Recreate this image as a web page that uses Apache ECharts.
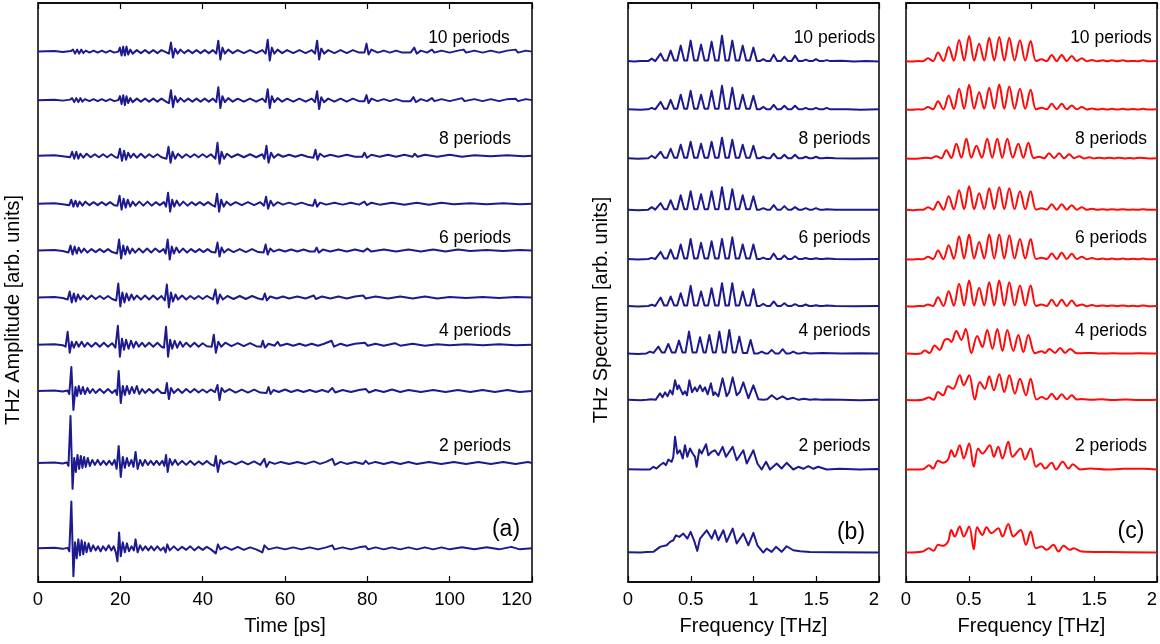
<!DOCTYPE html>
<html><head><meta charset="utf-8">
<script src="https://cdn.jsdelivr.net/npm/echarts@6/dist/echarts.min.js"></script>
<style>html,body{margin:0;padding:0;background:#fff}#c{width:1160px;height:644px}</style>
</head><body><div id="c"></div>
<script>
// ---------- tick labels ----------
const timeTicks = [0, 20, 40, 60, 80, 100, 120];
const freqTicks = [0, 0.5, 1, 1.5, 2];
const traceLabels = ['10 periods', '8 periods', '6 periods', '4 periods', '2 periods'];
const panelLabels = ['(a)', '(b)', '(c)'];

// vertical offsets of stacked traces (10 periods ... 1 period), arb. units
const baseTime = [531.3, 482.7, 427, 379, 332, 285, 237.7, 191.3, 119.3, 33.7];
const baseSpec = [521.3, 473, 424, 372.5, 323, 276, 228.5, 182, 112.7, 29.5];

// ---------- (a) time-domain traces [ps, amplitude] ----------
const tP10 = [[0,0],[4,0.5],[6,-0.5],[8,0.5],[8.5,2],[9.0,-2],[9.5,2],[10.0,-2],[10.5,2],[11.0,-1.5],[11.6,1],[12.5,-1],[13.5,1],[14.5,-1],[15.5,1],[16.5,-1],[17.5,1],[18.5,-1],[19.5,0],[19.9,4],[20.3,-4],[20.7,5],[21.1,-4],[21.5,5],[21.9,-3],[22.4,2],[23,-2],[24,1.5],[25,-1.5],[26,1.5],[27,-1.5],[28,1.5],[29,-1.5],[30,1.5],[31.3,-1],[31.8,-2],[32.3,9],[32.8,-6],[33.3,3],[33.9,-2],[34.6,2],[35.5,-1.5],[36.5,1.5],[37.5,-1.5],[38.5,1.5],[39.5,-1.5],[40.5,1.5],[41.5,-1.5],[42.5,1.5],[43.3,-2],[43.8,11],[44.3,-8],[44.8,4],[45.4,-2],[46.2,2],[47.3,-1.5],[48.5,1.5],[50,-1.5],[51.5,1.5],[53,-1.5],[54.5,1.5],[55.3,-2],[55.8,12],[56.3,-9],[56.8,4],[57.4,-2],[58.2,2],[59.3,-1.5],[60.5,1.5],[62,-1.5],[63.5,1.5],[65,-1.5],[66.5,1.5],[67.3,-2],[67.8,11],[68.3,-8],[68.8,3],[69.5,-2],[70.5,1.5],[72,-1.5],[73.5,1.5],[75,-1.5],[76.5,1.5],[78,-1],[79.3,-1],[79.8,8],[80.3,-3],[81,2],[82.5,-1],[84,1],[85.5,-1],[87,1],[88.5,-1],[90.5,-1],[91.4,4],[92,-2],[93,1],[94.5,-1],[95.7,2],[96.3,-1],[98,1],[100,-1],[102,1],[103.4,2],[104,-1],[106,1],[108,-1],[110,1],[112,-1],[114,1],[116,2],[116.6,-1],[118.5,1],[120,0]];
const tP9 = [[0,0],[4,0.5],[6,-0.5],[7.8,0.5],[8.3,2],[8.8,-2],[9.3,2],[9.8,-2],[10.3,2],[10.8,-1.5],[11.4,1],[12.5,-1],[13.5,1],[14.5,-1],[15.5,1],[16.5,-1],[17.5,1],[18.5,-1],[19.5,0],[19.9,4],[20.3,-4],[20.7,5],[21.1,-5],[21.5,4],[21.9,-3],[22.4,2],[23,-2],[24,1.5],[25,-1.5],[26,1.5],[27,-1.5],[28,1.5],[29,-1.5],[30,1.5],[31.3,-2],[31.8,-3],[32.3,10],[32.8,-7],[33.3,4],[33.9,-2],[34.6,2],[35.5,-1.5],[36.5,1.5],[37.5,-1.5],[38.5,1.5],[39.5,-1.5],[40.5,1.5],[41.5,-1.5],[42.5,1.5],[43.3,-2],[43.8,13],[44.3,-8],[44.8,4],[45.4,-2],[46.2,2],[47.3,-1.5],[48.5,1.5],[50,-1.5],[51.5,1.5],[53,-1.5],[54.5,1.5],[55.3,-2],[55.8,11],[56.3,-8],[56.8,4],[57.4,-2],[58.2,2],[59.3,-1.5],[60.5,1.5],[62,-1.5],[63.5,1.5],[65,-1.5],[66.5,1.5],[67.3,-2],[67.8,9],[68.3,-9],[68.8,3],[69.5,-2],[70.5,1.5],[72,-1.5],[73.5,1.5],[75,-1.5],[76.5,1.5],[78,-1],[79.3,-1],[79.8,5],[80.3,-3],[81,1.5],[82.5,-1],[84,1],[85.5,-1],[87,1],[88.5,-1],[90.5,-1],[91.2,3],[91.8,-2],[93,1],[94.5,-1],[95.7,2],[96.3,-1],[98,1],[100,-1],[102,1],[103,2],[103.6,-1],[106,1],[108,-1],[110,1],[112,-1],[114,1],[116,1.5],[116.6,-1],[118.5,1],[120,0]];
const tP8 = [[0,0],[4,0.5],[6,-0.5],[7.8,-1.5],[8.3,4],[8.8,-3],[9.3,4],[9.8,-3],[10.3,2],[11,-2],[11.8,2],[12.8,-1.5],[13.8,1.5],[14.8,-1.5],[15.8,1.5],[16.8,-1.5],[17.8,1.5],[18.8,-1.5],[19.4,-2],[19.9,7],[20.4,-5],[20.9,5],[21.4,-4],[21.9,3],[22.5,-2],[23.2,2],[24,-2],[25,2],[26,-2],[27,1.5],[28,-1.5],[29,1.5],[30,-1.5],[31.2,-3],[31.7,9],[32.2,-7],[32.7,4],[33.3,-3],[34,2],[35,-2],[36,1.5],[37,-1.5],[38,1.5],[39,-1.5],[40,1.5],[41,-1.5],[42,1.5],[43.1,-3],[43.6,13],[44.1,-8],[44.6,4],[45.2,-3],[45.9,2],[47,-1.5],[48.5,1.5],[50,-1.5],[51.5,1.5],[53,-1.5],[54.5,1.5],[55.0,-3],[55.5,10],[56.0,-7],[56.6,3],[57.3,-2],[58.3,1.5],[59.5,-1],[61,1],[62.5,-1],[64,1],[65.5,-1],[66.9,-2],[67.4,6],[67.9,-4],[68.5,2],[69.5,-1],[71,1],[73,-1],[75,1],[77,-1],[78.8,-1],[79.3,3],[79.9,-2],[81,1],[83,-1],[85,1],[87,-1],[89,1],[91,-1],[91.5,2],[92.2,-1],[94,1],[97,-1],[100,1],[103,-1],[106,0.5],[110,-0.5],[114,0.5],[118,-0.5],[120,0]];
const tP7 = [[0,0],[4,0.5],[6,-0.5],[7.6,-1.5],[8.1,4],[8.6,-3],[9.1,3],[9.6,-3],[10.1,2],[10.8,-2],[11.5,2],[12.5,-1.5],[13.5,1.5],[14.5,-1.5],[15.5,1.5],[16.5,-1.5],[17.5,1.5],[18.5,-1.5],[19.3,-2],[19.8,8],[20.3,-6],[20.8,5],[21.3,-4],[21.8,4],[22.4,-3],[23,2],[23.7,-2],[24.6,2],[25.6,-2],[26.6,2],[27.6,-2],[28.6,1.5],[29.6,-1.5],[30.6,1.5],[31.1,-3],[31.6,11],[32.1,-8],[32.6,4],[33.1,-3],[33.7,3],[34.4,-2],[35.3,2],[36.3,-2],[37.3,1.5],[38.3,-1.5],[39.3,1.5],[40.3,-1.5],[41.3,1.5],[42.3,-1.5],[43.0,-3],[43.5,10],[44.0,-8],[44.5,4],[45.1,-3],[45.8,2],[46.8,-1.5],[48,1.5],[49.5,-1.5],[51,1.5],[52.5,-1.5],[54,1.5],[54.9,-2],[55.4,7],[55.9,-5],[56.5,3],[57.2,-2],[58.2,1.5],[59.5,-1],[61,1],[62.5,-1],[64,1],[65.5,-1],[66.8,-2],[67.3,4],[67.8,-3],[68.5,1],[70,-1],[72,1],[74,-1],[76,1],[78,-1],[79.3,2],[79.9,-1.5],[81,1],[83,-1],[86,1],[89,-1],[92,1],[95,-1],[98,1],[101,-0.5],[105,0.5],[109,-0.5],[113,0.5],[117,-0.5],[120,0]];
const tP6 = [[0,0],[4,0.5],[6,-0.5],[7.4,-2],[7.9,5],[8.4,-4],[8.9,4],[9.4,-3],[9.9,3],[10.5,-2],[11.2,2],[12,-2],[13,1.5],[14,-1.5],[15,1.5],[16,-1.5],[17,1.5],[18,-1.5],[19.2,-3],[19.7,11],[20.2,-8],[20.7,5],[21.2,-4],[21.7,4],[22.3,-3],[22.9,2],[23.6,-2],[24.5,2],[25.5,-2],[26.5,2],[27.5,-2],[28.5,2],[29.5,-1.5],[30.5,1.5],[31.0,-3],[31.5,11],[32.0,-9],[32.5,4],[33.0,-3],[33.6,3],[34.3,-2],[35.2,2],[36.2,-2],[37.2,1.5],[38.2,-1.5],[39.2,1.5],[40.2,-1.5],[41.2,1.5],[42.2,-1.5],[43.1,-2],[43.6,8],[44.1,-6],[44.6,3],[45.2,-2],[46.2,1.5],[47.5,-1.5],[49,1.5],[50.5,-1.5],[52,1.5],[53.5,-1.5],[54.8,-2],[55.3,6],[55.8,-4],[56.4,2],[57.2,-1],[58.5,1],[60,-1],[61.5,1],[63,-1],[64.5,1],[66,-1],[67.2,-1],[67.7,3],[68.2,-2],[69.2,1],[71,-1],[73,1],[75,-1],[77,1],[79,-1],[80,2],[81,-1],[84,1],[87,-1],[90,1],[93,-1],[96,1],[99,-1],[102,1],[105,-0.5],[109,0.5],[113,-0.5],[117,0.5],[120,0]];
const tP5 = [[0,0],[4,0.5],[6,-0.5],[7.2,-2],[7.7,6],[8.2,-5],[8.7,4],[9.2,-4],[9.7,3],[10.3,-2],[11,2],[12,-2],[13,2],[14,-1.5],[15,1.5],[16,-1.5],[17,1.5],[18,-1.5],[19.0,-3],[19.5,14],[20.0,-9],[20.5,5],[21.0,-5],[21.5,4],[22.1,-3],[22.7,3],[23.3,-2],[24,2],[25,-2],[26,2],[27,-2],[28,2],[29,-2],[30,1.5],[30.8,-3],[31.3,13],[31.8,-10],[32.3,5],[32.8,-4],[33.4,3],[34,-2],[35,2],[36,-2],[37,1.5],[38,-1.5],[39,1.5],[40,-1.5],[41,1.5],[42.5,-2],[43.1,8],[43.6,-6],[44.2,3],[44.9,-2],[46,1.5],[47.5,-1.5],[49,1.5],[50.5,-1.5],[52,1.5],[53.5,-1],[54.6,-2],[55.1,4],[55.6,-3],[56.4,1],[58,-1],[59.5,1],[61,-1],[63,1],[65,-1],[67,2],[67.5,-1.5],[69,1],[71,-1],[73,1],[75,-1],[77,1],[79,2],[79.6,-1],[82,1],[85,-1],[88,1],[91,-1],[94,1],[97,-1],[100,0.5],[104,-0.5],[108,0.5],[112,-0.5],[116,0.5],[120,0]];
const tP4 = [[-0.5,0],[4,0.5],[6,-0.5],[6.7,-2],[7.2,13],[7.7,-8],[8.2,3],[8.7,-3],[9.3,3],[9.9,-2],[10.6,3],[11.3,-2],[12,2],[13,-2],[14,2],[15,-2],[16,2],[17,-2],[18,1.5],[18.8,-3],[19.4,19],[19.9,-12],[20.4,6],[20.9,-5],[21.4,5],[22,-4],[22.6,4],[23.2,-3],[23.8,3],[24.5,-2],[25.3,2],[26,-2],[27,2],[28,-2],[29,2],[30,-2],[30.6,-3],[31.1,18],[31.6,-12],[32.1,5],[32.6,-4],[33.2,4],[33.8,-3],[34.5,3],[35.2,-2],[36,2],[37,-2],[38,2],[39,-2],[40,1.5],[41,-1.5],[42.2,-2],[42.7,10],[43.2,-8],[43.8,3],[44.5,-2],[45.5,2],[47,-1.5],[48.5,1.5],[50,-1.5],[51.5,1.5],[53,-1.5],[54.2,-2],[54.6,4],[55.1,-3],[56,1],[57.5,-1],[58.2,3],[58.8,-1],[60.5,1],[62,-1],[63.5,1],[65,-1],[66.5,1],[68,-1],[69.5,1],[71.3,4],[71.9,-2],[73.5,1],[75,-1],[77,1],[79.4,2],[80.1,-1],[82,1],[84,-1],[86.7,1.5],[88,-1],[91,1],[94,-1],[97,0.5],[100,-0.5],[104,0.5],[108,-0.5],[112,0.5],[116,-0.5],[120,0]];
const tP3 = [[0,0],[4,0.5],[6,-0.5],[7.2,0.5],[7.6,-3],[8.1,24],[8.6,-19],[9.1,4],[9.5,-5],[9.9,5],[10.4,-3],[10.9,4],[11.4,-3],[12,3],[12.6,-2],[13.3,2],[14,-2],[15,2],[16,-2],[17,2],[18,-2],[18.8,1],[19.2,-4],[19.6,20],[20.1,-12],[20.6,5],[21.1,-4],[21.6,5],[22.2,-3],[22.8,4],[23.4,-2],[24.0,5],[24.6,-3],[25.3,2],[26,-2],[27,2],[28,-2],[29,2],[30,-2],[30.9,-2],[31.3,8],[31.8,-8],[32.3,3],[33,-2],[34,2],[35,-2],[36,2],[37,-1.5],[38,2],[39,-1.5],[40,1.5],[41,-1.5],[42,1.5],[43,-1],[43.6,6],[44.1,-9],[44.6,3],[45.3,-1],[46.5,2],[48,-1.5],[49.5,1.5],[51,-1.5],[52.5,1.5],[54,-1.5],[55.5,-2],[56,4],[56.5,-3],[57.2,1],[58.5,-1],[60,1.5],[61.5,-1],[63,1],[64.5,-1],[66,1],[67.5,-1],[69,1],[70.5,-1],[71.5,3],[72.2,-1.5],[74,1],[76,-1],[78,1],[79.6,2],[80.4,-1.5],[82,1],[84,-1],[86,1.5],[88,-1],[90,1],[93,-1],[96,1],[99,-1],[102,1],[105,-1],[108,1],[111,-1],[114,1],[117,-1],[120,0]];
const tP2 = [[0,0],[4,0.5],[6,-0.5],[7.0,0.5],[7.4,-3],[7.9,47],[8.4,-26],[8.8,5],[9.2,-9],[9.6,8],[10.0,-6],[10.4,7],[10.8,-5],[11.2,6],[11.6,-4],[12.1,5],[12.6,-3],[13.2,3],[13.8,-2],[14.5,3],[15.2,-2],[15.9,2],[16.6,-2],[17.3,2],[18,-2],[18.6,3],[19.1,-6],[19.6,17],[20.1,-14],[20.6,6],[21.1,-5],[21.6,5],[22.1,-3],[22.7,3],[23.2,-4],[23.7,11],[24.2,-6],[24.8,3],[25.4,-3],[26.0,3],[26.7,-2],[27.4,2],[28.1,-2],[28.8,2],[29.5,-2],[30.2,2],[30.7,-3],[31.1,8],[31.5,-9],[32.0,4],[32.6,-2],[33.3,3],[34,-2],[35,2],[36,-2],[37,2],[38,-2],[39,1.5],[40,-1.5],[41,2],[42,-1.5],[42.8,-3],[43.2,7],[43.7,-9],[44.3,3],[45,-1],[46.5,1.5],[48,-1.5],[49.5,1.5],[51,-1.5],[52.5,1.5],[54,-2],[55,4],[55.5,-4],[56.2,1],[57.5,-1],[59,1],[61,-1],[63,1],[65,-1],[67,1.5],[68.5,-1],[70,1],[71.5,4],[72.1,-2],[73.5,1],[75,-1],[77,1],[79,-1],[79.6,2],[80.3,-1],[82,1],[84,-1],[86,1],[88,-1],[90,1],[92,-1],[95,1],[98,-1],[101,1],[104,-1],[107,1],[110,-1],[113,1],[116,-1],[119,1],[120,0]];
const tP1 = [[0,0],[4,0.5],[6,-0.5],[7.2,0.5],[7.6,-3],[8.1,47],[8.6,-28],[9.0,6],[9.4,-10],[9.8,9],[10.2,-7],[10.6,8],[11.0,-6],[11.4,6],[11.8,-4],[12.3,5],[12.8,-3],[13.4,3],[14.0,-2],[14.6,2],[15.2,-3],[15.8,2],[16.5,-2],[17.2,3],[17.8,-2],[18.4,2],[18.9,-4],[19.3,-13],[19.7,16],[20.1,-8],[20.6,6],[21.1,-4],[21.6,5],[22.1,-3],[22.7,2],[23.3,-2],[23.7,9],[24.2,-4],[24.8,3],[25.4,-2],[26.1,2],[26.8,-2],[27.5,2],[28.2,-2],[29,2],[29.8,-2],[30.5,1],[31.0,-4],[31.4,4],[32,-2],[33,2],[34,-2],[35,1.5],[36,-1.5],[37,2],[38,-2],[39,1.5],[40,-1.5],[41,1.5],[42,-1],[43.2,-5],[43.7,4],[44.3,-1],[45.5,1.5],[47,-1.5],[48.5,1.5],[50,-1.5],[51.5,1],[53,-1],[54.5,-4],[55,3],[56,-1],[58,1],[60,-1],[62,1],[64,-1],[66,1],[68,-1],[70,1],[71.5,3],[72,-1],[74,1],[76,-1],[78,1],[79.6,2],[80.2,-1],[82,1],[84,-1],[86,1],[88,-1],[90,1],[92,-1],[94,1],[96,-1],[98,1],[100,-1],[103,1],[106,-1],[109,1],[112,-1],[115,1.5],[117,-1],[120,0]];

// ---------- (b) spectra, blue [THz, amplitude] ----------
const sB10 = [[0,0.5],[0.05,0],[0.1,0.5],[0.161,0.5],[0.189,3],[0.217,0.5],[0.232,0.5],[0.26,8],[0.288,1],[0.312,1],[0.34,11],[0.368,1],[0.392,1],[0.42,16],[0.448,1],[0.471,1],[0.499,21],[0.527,1],[0.554,1],[0.582,17],[0.61,1],[0.638,1],[0.666,20],[0.694,1],[0.721,1],[0.749,26],[0.777,1],[0.803,1],[0.831,21],[0.859,1],[0.886,1],[0.914,16],[0.942,1],[0.971,1],[0.999,14],[1.027,0.5],[1.05,0.5],[1.078,2.5],[1.106,0.5],[1.133,0.5],[1.161,7],[1.189,0.5],[1.218,0.5],[1.246,5],[1.274,0.5],[1.303,0.5],[1.331,6],[1.359,0.5],[1.388,0.5],[1.416,2],[1.444,0.5],[1.47,0.5],[1.498,2.5],[1.526,0.5],[1.555,0.5],[1.583,1.5],[1.611,0.5],[1.7,0.8],[1.8,0],[1.9,0.5],[2,0]];
const sB9 = [[0,0.5],[0.1,0],[0.161,0.5],[0.189,2],[0.217,0.5],[0.232,0.5],[0.26,8],[0.288,1],[0.312,1],[0.34,10],[0.368,1],[0.392,1],[0.42,15],[0.448,1],[0.471,1],[0.499,19],[0.527,1],[0.554,1],[0.582,15],[0.61,1],[0.638,1],[0.666,19],[0.694,1],[0.721,1],[0.749,24],[0.777,1],[0.803,1],[0.831,22],[0.859,1],[0.886,1],[0.914,15],[0.942,1],[0.971,1],[0.999,14],[1.027,0.5],[1.05,0.5],[1.078,3],[1.106,0.5],[1.133,0.5],[1.161,5],[1.189,0.5],[1.218,0.5],[1.246,4],[1.274,0.5],[1.303,0.5],[1.331,4],[1.359,0.5],[1.388,0.5],[1.416,2],[1.444,0.5],[1.47,0.5],[1.498,2],[1.526,0.5],[1.555,0.5],[1.583,2],[1.611,0.5],[1.75,0.5],[1.85,0],[2,0.5]];
const sB8 = [[0,0.5],[0.08,0],[0.161,0.5],[0.189,3],[0.217,0.5],[0.232,0.5],[0.26,7],[0.288,1],[0.312,1],[0.34,10],[0.368,1],[0.392,1],[0.42,14],[0.448,1],[0.471,1],[0.499,17],[0.527,1],[0.554,1],[0.582,15],[0.61,1],[0.638,1],[0.666,17],[0.694,1],[0.721,1],[0.749,21],[0.777,1],[0.803,1],[0.831,19],[0.859,1],[0.886,1],[0.914,14],[0.942,1],[0.971,1],[0.999,13],[1.027,0.5],[1.05,0.5],[1.078,2],[1.106,0.5],[1.133,0.5],[1.161,5],[1.189,0.5],[1.218,0.5],[1.246,4],[1.274,0.5],[1.303,0.5],[1.331,4],[1.359,0.5],[1.388,0.5],[1.416,2],[1.444,0.5],[1.47,0.5],[1.498,2],[1.526,0.5],[1.555,0.5],[1.583,1],[1.65,0.5],[1.8,0.3],[2,0.5]];
const sB7 = [[0,0.5],[0.08,0],[0.161,0.5],[0.189,3],[0.217,0.5],[0.232,0.5],[0.26,7],[0.288,1],[0.312,1],[0.34,10],[0.368,1],[0.392,1],[0.42,15],[0.448,1],[0.471,1],[0.499,19],[0.527,1],[0.554,1],[0.582,16],[0.61,1],[0.638,1],[0.666,19],[0.694,1],[0.721,1],[0.749,23],[0.777,1],[0.803,1],[0.831,21],[0.859,1],[0.886,1],[0.914,15],[0.942,1],[0.971,1],[0.999,14],[1.027,0.5],[1.05,0.5],[1.078,2],[1.106,0.5],[1.133,0.5],[1.161,5],[1.189,0.5],[1.218,0.5],[1.246,4],[1.274,0.5],[1.303,0.5],[1.331,3],[1.359,0.5],[1.388,0.5],[1.416,2],[1.444,0.5],[1.47,0.5],[1.498,2],[1.526,0.5],[1.555,0.5],[1.583,1],[1.65,0.5],[1.8,0.3],[2,0.5]];
const sB6 = [[0,0.5],[0.08,0],[0.161,0.5],[0.189,1.7],[0.217,0.5],[0.232,0.5],[0.26,7.7],[0.288,1],[0.312,1],[0.34,10],[0.368,1],[0.392,1],[0.42,15],[0.448,1],[0.471,1],[0.499,20.7],[0.527,1],[0.554,1],[0.582,16.7],[0.61,1],[0.638,1],[0.666,18.3],[0.694,1],[0.721,1],[0.749,20.7],[0.777,1],[0.803,1],[0.831,22.3],[0.859,1],[0.886,1],[0.914,15],[0.942,1],[0.971,1],[0.999,15],[1.027,0.5],[1.05,0.5],[1.078,2],[1.106,0.5],[1.133,0.5],[1.161,6],[1.189,0.5],[1.218,0.5],[1.246,4],[1.274,0.5],[1.303,0.5],[1.331,3.3],[1.359,0.5],[1.388,0.5],[1.416,1.5],[1.444,0.5],[1.47,0.5],[1.498,1.3],[1.526,0.5],[1.555,0.5],[1.583,1],[1.65,0.5],[1.8,0.3],[2,0.5]];
const sB5 = [[0,0.5],[0.08,0],[0.161,0.5],[0.189,1.7],[0.217,0.5],[0.232,0.5],[0.26,9],[0.288,1],[0.312,1],[0.34,10],[0.368,1],[0.392,1],[0.42,13.3],[0.448,1],[0.471,1],[0.499,20.7],[0.527,1],[0.554,1],[0.582,15],[0.61,1],[0.638,1],[0.666,18.3],[0.694,1],[0.721,1],[0.749,23.3],[0.777,1],[0.803,1],[0.831,23.3],[0.859,1],[0.886,1],[0.914,15],[0.942,1],[0.971,1],[0.999,17.3],[1.027,0.5],[1.05,0.5],[1.078,2.7],[1.106,0.5],[1.133,0.5],[1.161,5],[1.189,0.5],[1.218,0.5],[1.246,3.3],[1.274,0.5],[1.303,0.5],[1.331,2.3],[1.359,0.5],[1.388,0.5],[1.416,2],[1.444,0.5],[1.47,0.5],[1.498,1.3],[1.526,0.5],[1.555,0.5],[1.583,1],[1.65,0.5],[1.8,0.3],[2,0.5]];
const sB4 = [[-0.01,0.5],[0.08,0],[0.147,0.5],[0.175,2.3],[0.203,1],[0.214,1],[0.242,7.3],[0.27,1.5],[0.293,1.5],[0.321,10],[0.349,1.5],[0.378,1.5],[0.406,13.3],[0.434,1.5],[0.458,1.5],[0.486,22.3],[0.514,1.5],[0.546,1.5],[0.574,16.7],[0.602,1.5],[0.62,1.5],[0.648,19],[0.676,1.5],[0.7,1.5],[0.728,22.3],[0.756,1.5],[0.779,1.5],[0.807,24],[0.835,1.5],[0.859,1.5],[0.887,17.3],[0.915,1],[0.949,1],[0.977,14],[1.005,0.5],[1.037,0.5],[1.065,2.3],[1.093,0.5],[1.117,0.5],[1.145,4],[1.173,0.5],[1.204,0.5],[1.232,4.7],[1.26,0.5],[1.289,0.5],[1.317,2.3],[1.345,0.5],[1.374,0.5],[1.402,1.3],[1.45,0.5],[1.55,0.8],[1.7,0.3],[1.85,0.6],[2,0.3]];
const sB3 = [[0,0.5],[0.1,0],[0.15,0.5],[0.189,1],[0.22,0.5],[0.255,7],[0.275,3],[0.295,8],[0.315,4],[0.335,10],[0.355,6],[0.375,20],[0.393,11],[0.405,15],[0.42,17],[0.437,6],[0.454,9],[0.47,5],[0.489,20],[0.51,8],[0.534,13],[0.55,9],[0.574,15],[0.595,9],[0.614,13],[0.635,6],[0.661,17],[0.68,5],[0.693,8],[0.72,4],[0.754,22],[0.786,4],[0.806,8],[0.834,23],[0.866,5],[0.89,8],[0.919,18],[0.959,2],[0.999,15],[1.039,1],[1.078,0.5],[1.11,1],[1.145,5],[1.185,1],[1.232,4],[1.27,1],[1.317,2.5],[1.36,0.5],[1.402,1.5],[1.45,0.5],[1.49,1],[1.54,0.5],[1.583,0.7],[1.7,0.5],[1.85,0],[2,0.5]];
const sB2 = [[0,0.3],[0.1,0],[0.175,0],[0.202,2.7],[0.228,1],[0.255,4.3],[0.282,6.7],[0.303,4.3],[0.321,10],[0.348,7.7],[0.361,12.7],[0.375,32.7],[0.393,16],[0.414,19.3],[0.436,11],[0.454,24.3],[0.473,12.7],[0.494,21],[0.515,16],[0.534,12.7],[0.547,2.7],[0.568,20],[0.587,16],[0.622,25.3],[0.64,14.3],[0.667,17.7],[0.68,16],[0.693,19.3],[0.72,14.3],[0.754,22.7],[0.781,12.7],[0.834,22.7],[0.866,9.3],[0.919,19.3],[0.946,6],[0.999,19.3],[1.031,6],[1.065,0],[1.1,7.7],[1.131,0],[1.185,6],[1.224,1],[1.264,6.7],[1.317,0],[1.357,2.7],[1.397,0.7],[1.437,3.3],[1.477,0.7],[1.516,2.7],[1.583,0],[1.689,0.7],[1.849,0],[1.981,0.5],[2,0.3]];
const sB1 = [[0,0.3],[0.1,0],[0.15,0.5],[0.202,0.7],[0.255,5.7],[0.308,7.3],[0.335,10.7],[0.361,12.3],[0.382,17.3],[0.409,15.7],[0.441,19],[0.473,14],[0.499,20.7],[0.526,12.3],[0.552,1.7],[0.574,14],[0.627,22.3],[0.667,14],[0.693,22.3],[0.72,12.3],[0.76,22.3],[0.786,10.7],[0.834,24],[0.866,9],[0.919,19],[0.959,7.3],[0.999,19.7],[1.031,7.3],[1.078,0],[1.105,4],[1.145,0.7],[1.179,5.7],[1.224,0.7],[1.264,6.3],[1.317,2.3],[1.371,1.3],[1.45,0.5],[1.636,0.3],[1.981,0],[2,0]];

// ---------- (c) spectra, red [THz, amplitude] ----------
const sC10 = [[0,0.3],[0.05,0],[0.1,0.5],[0.135,0.3],[0.175,3.3],[0.215,0.5],[0.255,9],[0.298,0.5],[0.34,14.7],[0.381,0.8],[0.423,21.7],[0.463,1],[0.503,25.7],[0.543,1],[0.583,18],[0.623,1],[0.663,24],[0.703,1],[0.743,24.7],[0.783,1],[0.823,24],[0.865,1],[0.908,21.3],[0.95,1],[0.993,20.7],[1.037,0.5],[1.081,2.3],[1.121,0.5],[1.161,6.7],[1.201,0.5],[1.241,6.7],[1.281,0.5],[1.321,5.7],[1.361,0.5],[1.401,3.3],[1.441,0.3],[1.481,1.7],[1.524,0.3],[1.567,1.3],[1.604,0.3],[1.641,1.3],[1.684,0.3],[1.727,1.3],[1.768,0.3],[1.809,0.7],[1.849,0.3],[1.889,1.3],[1.93,0.3],[2,0.5]];
const sC9 = [[0,0.3],[0.05,0],[0.1,0.5],[0.135,0.3],[0.175,2.7],[0.215,0.5],[0.255,8.7],[0.298,0.5],[0.34,14.3],[0.381,0.8],[0.423,21],[0.463,1],[0.503,25],[0.543,1],[0.583,17.7],[0.623,1],[0.663,22],[0.703,1],[0.743,25.3],[0.783,1],[0.823,23.3],[0.865,1],[0.908,21],[0.95,1],[0.993,20],[1.037,0.5],[1.081,2],[1.121,0.5],[1.161,6],[1.201,0.5],[1.241,6],[1.281,0.5],[1.321,4.3],[1.361,0.5],[1.401,2.7],[1.441,0.3],[1.481,1.3],[1.524,0.3],[1.567,1],[1.604,0.3],[1.641,1],[1.684,0.3],[1.727,1],[1.768,0.3],[1.809,0.7],[1.849,0.3],[1.889,1],[1.93,0.3],[2,0.5]];
const sC8 = [[0,0.3],[0.06,0],[0.12,0.5],[0.16,1],[0.2,0.5],[0.241,2.5],[0.281,0.5],[0.321,8.5],[0.361,0.8],[0.401,15],[0.441,1],[0.481,20],[0.521,1],[0.561,13],[0.604,1],[0.647,20],[0.687,1],[0.727,20],[0.767,1],[0.807,20],[0.851,1],[0.895,15],[0.935,1],[0.975,16],[1.018,0.5],[1.06,2],[1.1,0.5],[1.14,5.5],[1.18,0.5],[1.22,5.5],[1.26,0.5],[1.3,4.5],[1.34,0.5],[1.38,2.5],[1.42,0.3],[1.46,1.5],[1.5,0.3],[1.54,1],[1.58,0.3],[1.62,1],[1.66,0.3],[1.7,1],[1.74,0.3],[1.78,0.8],[1.82,0.3],[1.86,1],[1.93,0.3],[2,0.5]];
const sC7 = [[0,0.3],[0.05,0],[0.1,0.5],[0.135,0.3],[0.175,3],[0.215,0.5],[0.255,8.5],[0.298,0.5],[0.34,14],[0.381,0.8],[0.423,20],[0.463,1],[0.503,24],[0.543,1],[0.583,17],[0.623,1],[0.663,22],[0.703,1],[0.743,23],[0.783,1],[0.823,22],[0.865,1],[0.908,19],[0.95,1],[0.993,19],[1.037,0.5],[1.081,2],[1.121,0.5],[1.161,6],[1.201,0.5],[1.241,6],[1.281,0.5],[1.321,5],[1.361,0.5],[1.401,3],[1.441,0.3],[1.481,1.5],[1.524,0.3],[1.567,1],[1.604,0.3],[1.641,1],[1.684,0.3],[1.727,1],[1.768,0.3],[1.809,0.7],[1.849,0.3],[1.889,1],[1.93,0.3],[2,0.5]];
const sC6 = [[0,0.3],[0.05,0],[0.1,0.5],[0.135,0.3],[0.175,2.7],[0.215,0.5],[0.255,9],[0.298,0.5],[0.34,14.3],[0.381,0.8],[0.423,23.3],[0.463,1],[0.503,25],[0.543,1],[0.583,17.7],[0.623,1],[0.663,25],[0.703,1],[0.743,25],[0.783,1],[0.823,24.3],[0.865,1],[0.908,20.7],[0.95,1],[0.993,20.7],[1.037,0.5],[1.081,1.7],[1.121,0.5],[1.161,6],[1.201,0.5],[1.241,6.7],[1.281,0.5],[1.321,5.7],[1.361,0.5],[1.401,2.7],[1.441,0.3],[1.481,1.5],[1.524,0.3],[1.567,1],[1.604,0.3],[1.641,1],[1.684,0.3],[1.727,1],[1.768,0.3],[1.809,0.7],[1.849,0.3],[1.889,1],[1.93,0.3],[2,0.5]];
const sC5 = [[0,0.3],[0.05,0],[0.1,0.5],[0.135,0.3],[0.175,2],[0.215,0.5],[0.255,9.3],[0.298,0.5],[0.34,15.3],[0.381,0.8],[0.423,22.7],[0.463,1],[0.503,26],[0.543,1],[0.583,18.7],[0.623,1],[0.663,24.3],[0.703,1],[0.743,26],[0.783,1],[0.823,24.3],[0.865,1],[0.908,21],[0.95,1],[0.993,21],[1.037,0.5],[1.081,2],[1.121,0.5],[1.161,6.7],[1.201,0.5],[1.241,6.7],[1.281,0.5],[1.321,6],[1.361,0.5],[1.401,2],[1.441,0.3],[1.481,1.5],[1.524,0.3],[1.567,1],[1.604,0.3],[1.641,1],[1.684,0.3],[1.727,1],[1.768,0.3],[1.809,0.7],[1.849,0.3],[1.889,1],[1.93,0.3],[2,0.5]];
const sC4 = [[-0.01,0.3],[0.08,0],[0.12,0.5],[0.148,3.3],[0.188,1],[0.228,8.3],[0.268,4],[0.308,14],[0.335,15],[0.361,12],[0.401,23],[0.441,14],[0.476,25],[0.521,0.7],[0.567,18],[0.609,7],[0.647,24],[0.689,5],[0.727,25],[0.769,3],[0.807,24],[0.855,3],[0.895,19],[0.935,2],[0.975,19],[1.028,0.7],[1.081,2.7],[1.108,1],[1.143,5],[1.188,1],[1.228,6],[1.268,1],[1.308,5],[1.36,0.7],[1.401,0.7],[1.48,1],[1.55,0.3],[1.65,0.7],[1.75,0.3],[1.85,0.7],[2,0.3]];
const sC3 = [[0,0.3],[0.08,0],[0.13,0.5],[0.183,2.7],[0.22,0.5],[0.255,8.3],[0.295,5],[0.335,14],[0.375,11.7],[0.428,25],[0.46,15],[0.503,25],[0.548,0.7],[0.588,18.3],[0.628,11.7],[0.663,24],[0.7,10],[0.743,26],[0.783,8.3],[0.823,25],[0.868,6.7],[0.908,21.7],[0.956,5],[0.993,21.7],[1.041,0.7],[1.081,3.3],[1.121,1],[1.161,6.7],[1.201,1],[1.241,6],[1.281,1],[1.321,5],[1.361,0.7],[1.401,1.3],[1.48,0.5],[1.56,1],[1.65,0.3],[1.75,0.8],[1.85,0.3],[2,0.6]];
const sC2 = [[0,0],[0.135,0.3],[0.183,4.3],[0.215,1],[0.255,8.7],[0.295,6.7],[0.335,10],[0.361,19.3],[0.388,12.7],[0.428,24.3],[0.46,11],[0.503,26],[0.54,2.7],[0.575,21],[0.609,16],[0.668,24.3],[0.7,12.7],[0.735,22.7],[0.769,11],[0.815,27.7],[0.849,12.7],[0.913,21],[0.948,10],[0.993,21],[1.036,2.7],[1.073,6],[1.108,1],[1.161,6.7],[1.196,0],[1.249,7.7],[1.295,1],[1.329,5.3],[1.388,0],[1.468,1],[1.601,0],[1.735,0.7],[1.895,0.7],[2,0]];
const sC1 = [[0,0],[0.135,1],[0.183,4.3],[0.22,1.7],[0.255,7.7],[0.295,6.7],[0.335,11],[0.361,22.7],[0.388,16],[0.428,26],[0.46,16],[0.503,26],[0.54,3.3],[0.567,25.3],[0.609,17.7],[0.641,25.3],[0.681,19.3],[0.735,24.3],[0.769,16],[0.815,28.7],[0.855,16],[0.913,22.7],[0.956,7.7],[0.993,21],[1.036,4.3],[1.081,6],[1.121,2.7],[1.175,7.7],[1.215,1],[1.255,6.7],[1.308,2.7],[1.335,4.3],[1.401,1],[1.601,0.5],[2,0]];

const timeTraces = [tP10, tP9, tP8, tP7, tP6, tP5, tP4, tP3, tP2, tP1];
const blueSpectra = [sB10, sB9, sB8, sB7, sB6, sB5, sB4, sB3, sB2, sB1];
const redSpectra = [sC10, sC9, sC8, sC7, sC6, sC5, sC4, sC3, sC2, sC1];

// ---------- chart ----------
const FONT = "'Liberation Sans', Arial, Helvetica, sans-serif";
const BLUE = '#1d1a8f', RED = '#ff0a0a';
const chart = echarts.init(document.getElementById('c'), null, {renderer: 'canvas'});

function gridBox(left, width) {
  return {left, width, top: 3, height: 579, show: true, borderColor: '#000', borderWidth: 1.5, backgroundColor: 'transparent'};
}
function bottomAxis(gi, max, interval, name) {
  return {gridIndex: gi, type: 'value', min: 0, max, interval, position: 'bottom',
    axisLine: {show: true, onZero: false, lineStyle: {color: '#000', width: 1.5}},
    axisTick: {show: true, inside: true, length: 6, lineStyle: {color: '#000', width: 1.2}},
    axisLabel: {show: true, color: '#000', fontSize: 18.5, fontFamily: FONT, margin: 8, alignMaxLabel: 'right', hideOverlap: false},
    splitLine: {show: false},
    name, nameLocation: 'middle', nameGap: 34,
    nameTextStyle: {color: '#000', fontSize: 20, fontFamily: FONT}};
}
function topAxis(gi, max, interval) {
  return {gridIndex: gi, type: 'value', min: 0, max, interval, position: 'top',
    axisLine: {show: true, onZero: false, lineStyle: {color: '#000', width: 1.5}},
    axisTick: {show: true, inside: true, length: 6, lineStyle: {color: '#000', width: 1.2}},
    axisLabel: {show: false}, splitLine: {show: false}};
}
function yAx(gi) {
  return {gridIndex: gi, type: 'value', min: 0, max: 580, show: false, splitLine: {show: false}};
}
function mk(trace, base, gi, color, smooth) {
  return {type: 'line', xAxisIndex: gi, yAxisIndex: gi, data: trace.map(p => [p[0], base + p[1]]),
    showSymbol: false, symbol: 'none', smooth, silent: true, animation: false,
    lineStyle: {color, width: 2, join: 'round'}};
}

const series = [];
timeTraces.forEach((tr, i) => series.push(mk(tr, baseTime[i], 0, BLUE, false)));
blueSpectra.forEach((tr, i) => series.push(mk(tr, baseSpec[i], 1, BLUE, false)));
redSpectra.forEach((tr, i) => series.push(mk(tr, baseSpec[i], 2, RED, 0.35)));

function txt(x, y, text, size, rot) {
  return {type: 'text', x, y, rotation: rot || 0, z: 100,
    style: {text, fill: '#000', font: size + 'px ' + FONT, textAlign: 'center', textVerticalAlign: 'middle', verticalAlign: 'middle'}};
}
const labelY = [38, 139, 238, 331, 446];
const graphics = [];
labelY.forEach((y, i) => {
  graphics.push(txt(i === 0 ? 469 : 475, y, traceLabels[i], 17.5));
  graphics.push(txt(834.5, y, traceLabels[i], 17.5));
  graphics.push(txt(1111, y, traceLabels[i], 17.5));
});
graphics.push(txt(506, 530, panelLabels[0], 23));
graphics.push(txt(851, 533, panelLabels[1], 23));
graphics.push(txt(1131, 532, panelLabels[2], 23));
graphics.push(txt(13, 310, 'THz Amplitude [arb. units]', 20, Math.PI / 2));
graphics.push(txt(601, 310, 'THz Spectrum [arb. units]', 20, Math.PI / 2));

chart.setOption({
  animation: false,
  backgroundColor: '#fff',
  grid: [gridBox(38, 494), gridBox(628, 251), gridBox(906, 251)],
  xAxis: [
    bottomAxis(0, timeTicks[timeTicks.length - 1], timeTicks[1] - timeTicks[0], 'Time [ps]'),
    bottomAxis(1, freqTicks[freqTicks.length - 1], freqTicks[1] - freqTicks[0], 'Frequency [THz]'),
    bottomAxis(2, freqTicks[freqTicks.length - 1], freqTicks[1] - freqTicks[0], 'Frequency [THz]'),
    topAxis(0, 120, 20), topAxis(1, 2, 0.5), topAxis(2, 2, 0.5)
  ],
  yAxis: [yAx(0), yAx(1), yAx(2)],
  series,
  graphic: graphics
});
</script></body></html>
